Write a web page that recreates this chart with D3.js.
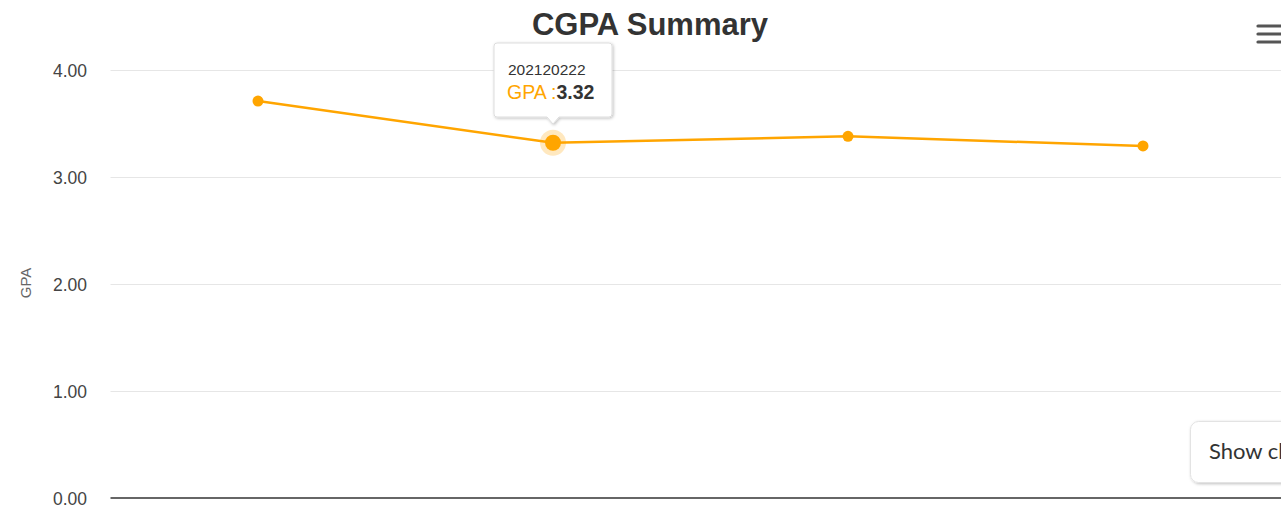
<!DOCTYPE html>
<html><head><meta charset="utf-8">
<script src="https://cdn.jsdelivr.net/npm/d3@7"></script>
<style>
html,body{margin:0;padding:0;background:#fff;overflow:hidden;}
svg{display:block;font-family:"Liberation Sans",Arial,sans-serif;}
</style></head>
<body>
<svg id="c" width="1281" height="506"></svg>
<script>
const categories = ["202120221", "202120222", "202220231", "202220232"];
const gpaValues = [3.71, 3.32, 3.38, 3.29];
const yTicks = [0, 1, 2, 3, 4];
const titleText = "CGPA Summary";
const yAxisTitle = "GPA";
const seriesName = "GPA";
const hoverIndex = 1;

const svg = d3.select("#c");
const chartW = 1300;
const m = {left: 110.5, right: 9.5};
const x = d3.scaleBand().domain(categories).range([m.left, chartW - m.right]);
const y = d3.scaleLinear().domain([0, 4]).range([498, 70]);
const cx = d => x(d) + x.bandwidth() / 2;
const orange = "#FFA500";

const defs = svg.append("defs");
const f = defs.append("filter").attr("id","sh").attr("x","-20%").attr("y","-20%").attr("width","150%").attr("height","160%");
f.append("feDropShadow").attr("dx",1).attr("dy",1).attr("stdDeviation",1.6).attr("flood-color","#000").attr("flood-opacity",0.25);

// grid
svg.append("g").selectAll("line").data(yTicks.filter(t => t > 0)).join("line")
  .attr("x1", m.left).attr("x2", 1281).attr("y1", d => Math.round(y(d)) + 0.5).attr("y2", d => Math.round(y(d)) + 0.5)
  .attr("stroke", "#e6e6e6").attr("stroke-width", 1);
// baseline
svg.append("line").attr("x1", m.left).attr("x2", 1281).attr("y1", y(0)).attr("y2", y(0))
  .attr("stroke", "#333").attr("stroke-width", 1.3);

// y labels
svg.append("g").selectAll("text").data(yTicks).join("text")
  .attr("x", 87).attr("y", d => y(d) + 6.5).attr("text-anchor", "end")
  .attr("font-size", 17.5).attr("fill", "#444").text(d => d3.format(".2f")(d));

// y title
svg.append("text").attr("transform", `translate(31,${y(2) - 1}) rotate(-90)`).attr("text-anchor","middle")
  .attr("font-size", 15).attr("fill", "#666").text(yAxisTitle);

// title
svg.append("text").attr("x", chartW / 2).attr("y", 35).attr("text-anchor", "middle")
  .attr("font-size", 31).attr("font-weight", "bold").attr("fill", "#333").text(titleText);

// menu icon
svg.append("g").selectAll("line").data([0,1,2]).join("line")
  .attr("x1", 1258).attr("x2", 1281).attr("y1", d => 26 + d * 8).attr("y2", d => 26 + d * 8)
  .attr("stroke", "#555").attr("stroke-width", 3.2).attr("stroke-linecap","round");

// line
const line = d3.line().x((d, i) => cx(categories[i])).y(d => y(d));
svg.append("path").datum(gpaValues).attr("d", line).attr("fill", "none")
  .attr("stroke", orange).attr("stroke-width", 2.5);

// halo
svg.append("circle").attr("cx", cx(categories[hoverIndex])).attr("cy", y(gpaValues[hoverIndex]))
  .attr("r", 13).attr("fill", orange).attr("opacity", 0.25);
// markers
svg.append("g").selectAll("circle").data(gpaValues).join("circle")
  .attr("cx", (d, i) => cx(categories[i])).attr("cy", d => y(d))
  .attr("r", (d, i) => i === hoverIndex ? 8 : 5.5).attr("fill", orange);

// tooltip
const px = cx(categories[hoverIndex]);
const tx = 494, tyy = 43, tw = 118, th = 74;
const tip = svg.append("g");
tip.append("path")
  .attr("d", `M${tx+3},${tyy} H${tx+tw-3} Q${tx+tw},${tyy} ${tx+tw},${tyy+3} V${tyy+th-3} Q${tx+tw},${tyy+th} ${tx+tw-3},${tyy+th} H${px+6} L${px},${tyy+th+7} L${px-6},${tyy+th} H${tx+3} Q${tx},${tyy+th} ${tx},${tyy+th-3} V${tyy+3} Q${tx},${tyy} ${tx+3},${tyy} Z`)
  .attr("fill", "#fff").attr("stroke", "#ddd").attr("stroke-width", 1).attr("filter", "url(#sh)");
tip.append("text").attr("x", tx + 14).attr("y", tyy + 32).attr("font-size", 15.5).attr("fill", "#333")
  .text(categories[hoverIndex]);
const t2 = tip.append("text").attr("x", tx + 13).attr("y", tyy + 56).attr("font-size", 19.5);
t2.append("tspan").attr("fill", orange).text(seriesName + " :");
t2.append("tspan").attr("fill", "#333").attr("font-weight", "bold").text(d3.format(".2f")(gpaValues[hoverIndex]));

// show chart button
const b = svg.append("g");
b.append("rect").attr("x", 1190.5).attr("y", 421.5).attr("width", 120).attr("height", 61).attr("rx", 8)
  .attr("fill", "#fff").attr("stroke", "#e3e3e3").attr("filter", "url(#sh)");
b.append("text").attr("x", 1209).attr("y", 459).attr("font-size", 22).attr("fill", "#333")
  .attr("font-family", "Lato,'Noto Sans',sans-serif").text("Show chart");
</script>
</body></html>
